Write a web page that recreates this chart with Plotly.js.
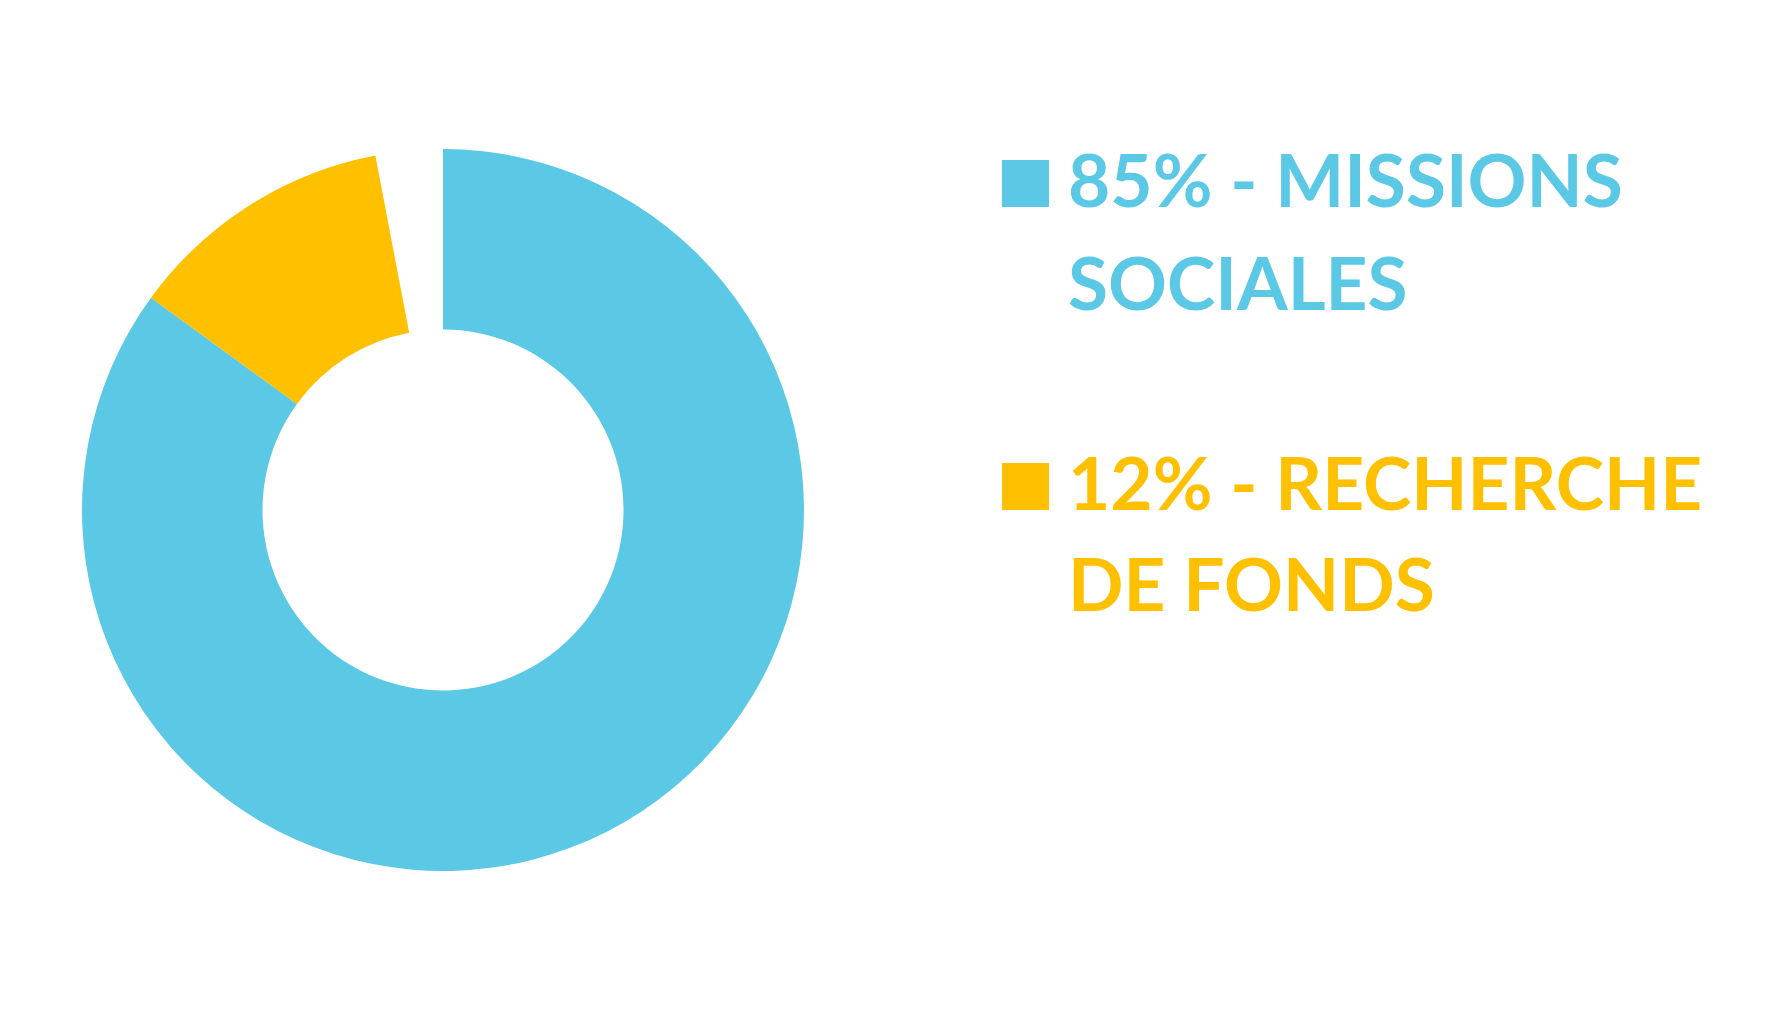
<!DOCTYPE html>
<html>
<head>
<meta charset="utf-8">
<script src="https://cdn.plot.ly/plotly-3.0.1.min.js"></script>
<style>html,body{margin:0;padding:0;background:#fff;}#chart{width:1765px;height:1010px;}</style>
</head>
<body>
<div id="chart"></div>
<script>
// Data
const categories = ["MISSIONS SOCIALES", "RECHERCHE DE FONDS", ""];
const values = [85, 12, 3];
const colors = ["#5BC9E6", "#FFC000", "rgba(255,255,255,0)"];
const legendFirstLine = ["MISSIONS", "RECHERCHE"];
const legendSecondLine = ["SOCIALES", "DE FONDS"];

const W = 1765, H = 1010;
const px = x => x / W;
const py = y => 1 - y / H;

const trace = {
  type: "pie",
  values: values,
  labels: categories.map((c, i) => c || "gap"),
  marker: { colors: colors, line: { width: 0 } },
  hole: 0.5,
  sort: false,
  direction: "clockwise",
  rotation: 0,
  textinfo: "none",
  hoverinfo: "none",
  showlegend: false,
  domain: { x: [px(82), px(804)], y: [py(871), py(149)] }
};

const fontFam = "Lato, 'Open Sans', sans-serif";
const fs = 73;
const squareTops = [160, 463];
const lineTops = [[133, 236], [436, 537]];
const shapes = [];
const annotations = [];
for (let i = 0; i < 2; i++) {
  const t = squareTops[i];
  shapes.push({
    type: "rect", xref: "paper", yref: "paper",
    x0: px(1002), x1: px(1049), y0: py(t + 47), y1: py(t),
    fillcolor: colors[i], line: { width: 0 }
  });
  const lines = [values[i] + "% - " + legendFirstLine[i], legendSecondLine[i]];
  lines.forEach((txt, j) => {
    annotations.push({
      xref: "paper", yref: "paper",
      x: px(1066), y: py(lineTops[i][j]),
      xanchor: "left", yanchor: "top", align: "left",
      showarrow: false,
      text: "<b>" + txt + "</b>",
      font: { family: fontFam, size: fs, color: colors[i] }
    });
  });
}

const layout = {
  width: W, height: H,
  margin: { l: 0, r: 0, t: 0, b: 0 },
  paper_bgcolor: "#ffffff",
  plot_bgcolor: "#ffffff",
  shapes: shapes,
  annotations: annotations
};

Plotly.newPlot("chart", [trace], layout, { displayModeBar: false, staticPlot: true });
</script>
</body>
</html>
